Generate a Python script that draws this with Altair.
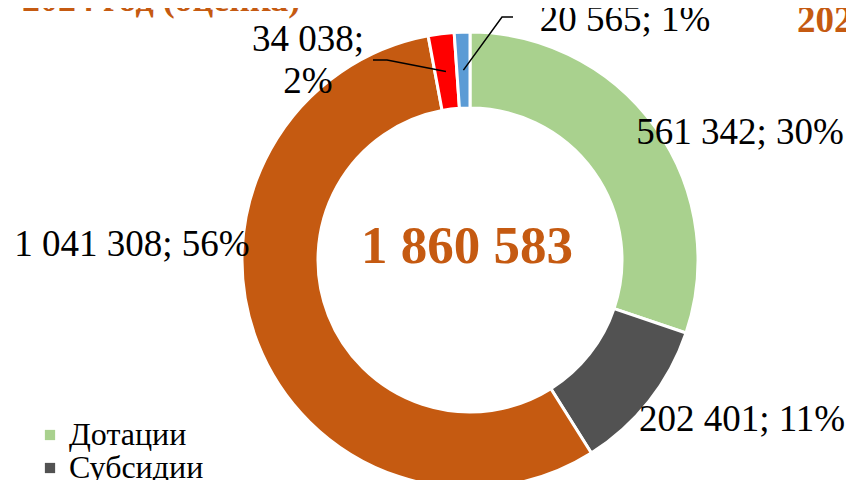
import math
import altair as alt
import pandas as pd

# ---- data ----
categories = ["Дотации", "Субсидии", "Субвенции", "Иные межбюджетные трансферты",
              "Прочие безвозмездные поступления"]
values = [561342, 202401, 1041308, 34038, 20565]
shares = [30, 11, 56, 2, 1]
colors = ["#A9D18E", "#525252", "#C55A11", "#FF0000", "#5B9BD5"]
legend_shown = ["Дотации", "Субсидии"]
total_label = "1 860 583"
title_left = "2024 год (оценка)"
title_right = "2025 год (прогноз)"

# ---- layout ----
W, H = 838, 472
CX, CY = 462, 252
R_OUT, R_IN = 228, 152
R_MID = (R_OUT + R_IN) / 2
FONT = "Liberation Serif"
ORANGE = "#C55A11"

# label centres (pixels) per category, and leader line start/elbow for small slices
label_x = [732, 734, 124, 300, 617]
label_y = [125, 412, 237, 32, 12]
leader = {3: [(365, 52), (379, 52)], 4: [(505, 9), (494, 9)]}


def fmt(v):
    return f"{v:,}".replace(",", " ")


texts = []
for i, (v, s) in enumerate(zip(values, shares)):
    if i == 3:
        texts.append(f"{fmt(v)};\n{s}%")
    else:
        texts.append(f"{fmt(v)}; {s}%")

df = pd.DataFrame({"category": categories, "value": values, "ord": list(range(len(values)))})
lab = pd.DataFrame({"x": label_x, "y": label_y, "text": texts})

# leader lines: end point at the middle of the ring, at the slice's mid angle
tot = sum(values)
cum = 0
rows = []
for i, v in enumerate(values):
    a0 = cum / tot * 2 * math.pi
    cum += v
    a1 = cum / tot * 2 * math.pi
    if i in leader:
        mid = (a0 + a1) / 2
        pts = leader[i] + [(CX + R_MID * math.sin(mid), CY - R_MID * math.cos(mid))]
        for k, (px, py) in enumerate(pts):
            rows.append({"id": i, "k": k, "x": px, "y": py})
lines = pd.DataFrame(rows)

arcs = alt.Chart(df).mark_arc(
    radius=R_OUT, innerRadius=R_IN, stroke="white", strokeWidth=3, x=CX, y=CY
).encode(
    theta=alt.Theta("value:Q", stack=True),
    order=alt.Order("ord:Q"),
    color=alt.Color(
        "category:N",
        scale=alt.Scale(domain=categories, range=colors),
        sort=categories,
        legend=alt.Legend(
            values=legend_shown, orient="none", legendX=26, legendY=411, title=None,
            labelFont=FONT, labelFontSize=32, labelColor="black", symbolType="square",
            symbolSize=105, symbolStrokeWidth=0, rowPadding=1, labelOffset=3,
        ),
    ),
)

labels = alt.Chart(lab).mark_text(
    font=FONT, fontSize=37, align="center", baseline="middle", lineBreak="\n",
    lineHeight=42, color="black"
).encode(
    x=alt.X("x:Q", scale=None, axis=None),
    y=alt.Y("y:Q", scale=None, axis=None),
    text="text:N",
)

leaders = alt.Chart(lines).mark_line(color="black", strokeWidth=1.5).encode(
    x=alt.X("x:Q", scale=None, axis=None),
    y=alt.Y("y:Q", scale=None, axis=None),
    detail="id:N",
    order="k:Q",
)

center = alt.Chart(pd.DataFrame({"t": [total_label]})).mark_text(
    font=FONT, fontSize=53, fontWeight="bold", color=ORANGE, align="center",
    baseline="middle"
).encode(x=alt.value(459), y=alt.value(239), text="t:N")

t_left = alt.Chart(pd.DataFrame({"t": [title_left]})).mark_text(
    font=FONT, fontSize=36, fontWeight="bold", color=ORANGE, align="left",
    baseline="alphabetic"
).encode(x=alt.value(14), y=alt.value(3), text="t:N")

t_right = alt.Chart(pd.DataFrame({"t": [title_right]})).mark_text(
    font=FONT, fontSize=37, fontWeight="bold", color=ORANGE, align="left",
    baseline="alphabetic"
).encode(x=alt.value(789), y=alt.value(24), text="t:N")

chart = alt.layer(arcs, leaders, labels, center, t_left, t_right).properties(
    width=W, height=H, padding=0, autosize=alt.AutoSizeParams(type="none")
).configure_view(stroke=None)

chart.save("out.html", embed_options={"renderer": "svg", "actions": False})
